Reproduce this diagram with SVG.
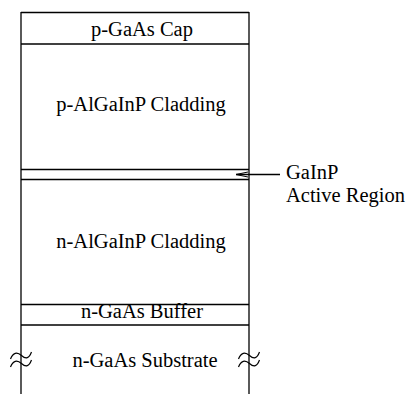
<svg xmlns="http://www.w3.org/2000/svg" width="407" height="394" viewBox="0 0 407 394">
<style>
  .ln { stroke: #000; stroke-width: 1.3; fill: none; }
  .t { font-family: "Liberation Serif", "Times New Roman", serif; font-size: 20.5px; fill: #000; }
  .c { text-anchor: middle; }
</style>
<defs>
  <marker id="arr" viewBox="0 0 14 8" refX="13" refY="4" markerWidth="14" markerHeight="8" markerUnits="userSpaceOnUse" orient="auto">
    <path d="M1,1.5 L13,4 L1,6.5" fill="none" stroke="#000" stroke-width="1"/>
  </marker>
  <path id="tilde" d="M0,7 C2.5,0.5 6.5,-0.5 11,3.5 S18.5,6.5 21,0" fill="none" stroke="#000" stroke-width="1.2"/>
</defs>
<rect width="407" height="394" fill="#fff"/>
<g id="layers">
  <g id="cap">
    <line class="ln" x1="21" y1="12.5" x2="249" y2="12.5"/>
    <line class="ln" x1="21" y1="44" x2="249" y2="44"/>
    <text class="t c" x="142" y="36">p-GaAs Cap</text>
  </g>
  <g id="p-cladding">
    <text class="t c" x="141" y="111">p-AlGaInP Cladding</text>
  </g>
  <g id="active">
    <line class="ln" x1="21" y1="169.5" x2="249" y2="169.5"/>
    <line class="ln" x1="21" y1="179.5" x2="249" y2="179.5"/>
  </g>
  <g id="n-cladding">
    <text class="t c" x="141" y="248">n-AlGaInP Cladding</text>
  </g>
  <g id="buffer">
    <line class="ln" x1="21" y1="304.5" x2="249" y2="304.5"/>
    <line class="ln" x1="21" y1="325" x2="249" y2="325"/>
    <text class="t c" x="142" y="318">n-GaAs Buffer</text>
  </g>
  <g id="substrate">
    <text class="t c" x="145" y="367">n-GaAs Substrate</text>
    <use href="#tilde" x="10.5" y="352"/>
    <use href="#tilde" x="10.5" y="360"/>
    <use href="#tilde" x="238.5" y="352"/>
    <use href="#tilde" x="238.5" y="360"/>
  </g>
  <line class="ln" x1="21" y1="12" x2="21" y2="394"/>
  <line class="ln" x1="249" y1="12" x2="249" y2="394"/>
</g>
<g id="label-active">
  <text class="t" x="286" y="179">GaInP</text>
  <text class="t" x="286" y="202">Active Region</text>
</g>
<g id="connectors">
  <line class="ln" x1="280" y1="174.5" x2="236" y2="174.5" marker-end="url(#arr)" stroke-width="1.1"/>
</g>
</svg>
